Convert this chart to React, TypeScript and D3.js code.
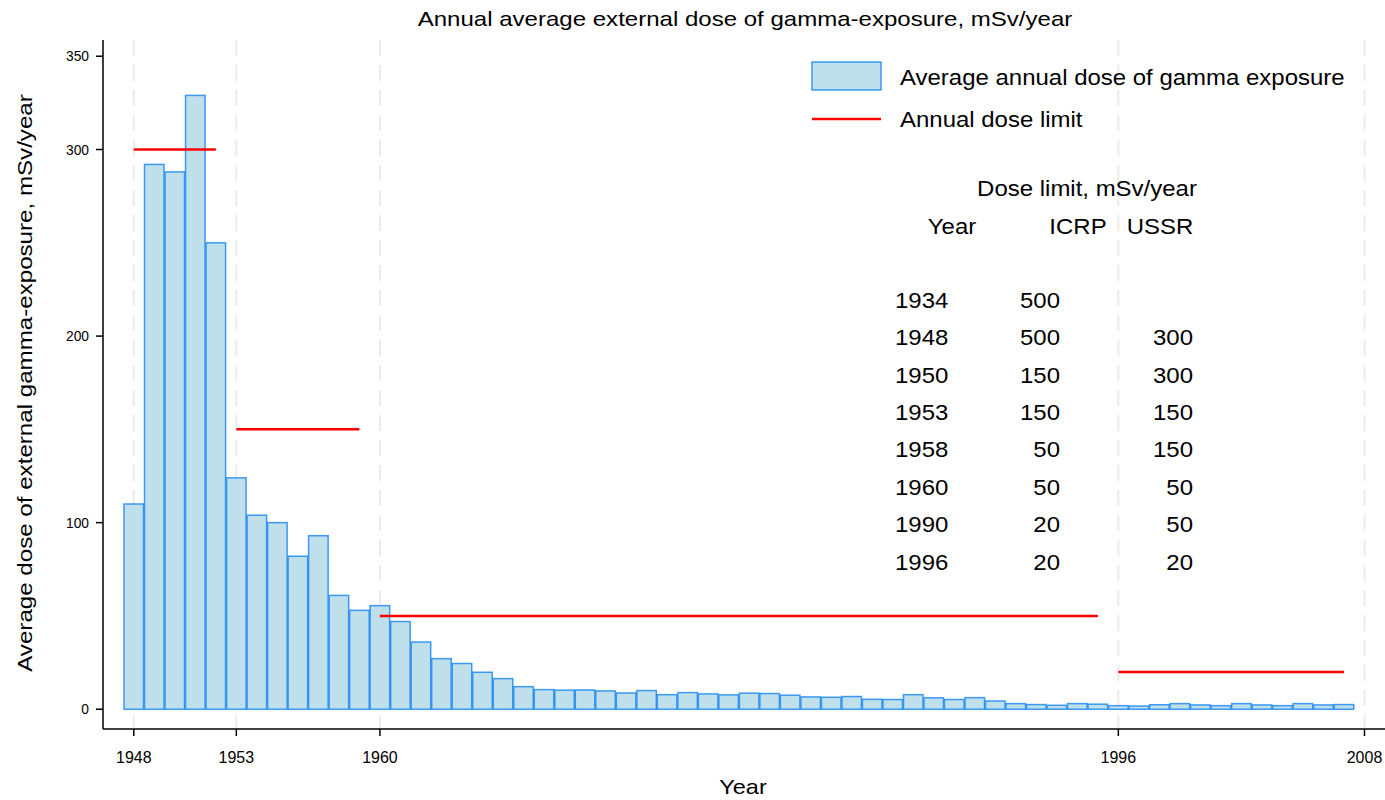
import React from "react";
import * as d3 from "d3";

const years: number[] = d3.range(1948, 2008);
const doses: number[] = [
  110, 292, 288, 329, 250, 124, 104, 100, 82, 93,
  61, 53, 55.5, 47, 36, 27.1, 24.5, 19.8, 16.4, 12.1,
  10.5, 10.2, 10.3, 9.8, 8.7, 10.0, 7.8, 8.9, 8.2, 7.7,
  8.6, 8.4, 7.5, 6.6, 6.4, 6.8, 5.3, 5.2, 7.8, 6.1,
  5.2, 6.2, 4.4, 3.0, 2.5, 2.1, 3.0, 2.7, 1.9, 1.7,
  2.4, 3.0, 2.3, 1.9, 3.0, 2.3, 1.9, 3.0, 2.3, 2.5,
];
const limitStart: number[] = [1948, 1953, 1960, 1996];
const limitEnd: number[] = [1952, 1959, 1995, 2007];
const limitValue: number[] = [300, 150, 50, 20];

const xTicks: number[] = [1948, 1953, 1960, 1996, 2008];
const yTicks: number[] = [0, 100, 200, 300, 350];

const tableYears: string[] = ["1934", "1948", "1950", "1953", "1958", "1960", "1990", "1996"];
const tableICRP: string[] = ["500", "500", "150", "150", "50", "50", "20", "20"];
const tableUSSR: string[] = ["", "300", "300", "150", "150", "50", "50", "20"];

const W = 1385;
const H = 800;
const FONT = "'Liberation Sans', Arial, Helvetica, sans-serif";

type TProps = {
  x: number;
  y: number;
  size: number;
  sx: number;
  anchor?: "start" | "middle" | "end";
  rotate?: number;
  children: React.ReactNode;
};

function T({ x, y, size, sx, anchor = "start", rotate = 0, children }: TProps) {
  return (
    <text
      transform={`translate(${x},${y}) rotate(${rotate}) scale(${sx},1)`}
      dy="0.35em"
      textAnchor={anchor}
      fontSize={size}
      fill="#000"
    >
      {children}
    </text>
  );
}

export default function App() {
  const x = d3.scaleLinear().domain([1946.5, 2009]).range([103, 1385]);
  const y = d3.scaleLinear().domain([-10.6, 358.7]).range([729, 40]);
  const top = 40;
  const bottom = 729;

  const tableRowY = d3.scaleLinear().domain([0, 7]).range([300, 562]);
  const BIG = 22;
  const BSX = 1.09;

  return (
    <svg
      width={W}
      height={H}
      style={{ position: "absolute", left: 0, top: 0, background: "#fff" }}
      fontFamily={FONT}
    >
      {/* grid lines */}
      {xTicks.map((t) => (
        <line
          key={"g" + t}
          x1={x(t)}
          x2={x(t)}
          y1={top}
          y2={bottom}
          stroke="#ebebeb"
          strokeWidth={2}
          strokeDasharray="16 9"
        />
      ))}

      {/* bars */}
      {years.map((yr, i) => {
        const x0 = x(yr - 0.5) + 0.5;
        const x1 = x(yr + 0.5) - 0.5;
        return (
          <rect
            key={"b" + yr}
            x={x0}
            y={y(doses[i])}
            width={x1 - x0}
            height={y(0) - y(doses[i])}
            fill="#bfe0ea"
            stroke="#1e88f5"
            strokeOpacity={0.85}
            strokeWidth={1.5}
          />
        );
      })}

      {/* limit lines */}
      {limitValue.map((v, i) => (
        <line
          key={"l" + i}
          x1={x(limitStart[i])}
          x2={x(limitEnd[i])}
          y1={y(v)}
          y2={y(v)}
          stroke="#ff0000"
          strokeWidth={2.5}
        />
      ))}

      {/* axes */}
      <line x1={103} x2={103} y1={top} y2={bottom} stroke="#000" strokeWidth={1.5} />
      <line x1={103} x2={1385} y1={bottom} y2={bottom} stroke="#000" strokeWidth={1.5} />
      {yTicks.map((t) => (
        <g key={"yt" + t}>
          <line x1={96} x2={103} y1={y(t)} y2={y(t)} stroke="#000" strokeWidth={1.5} />
          <T x={89} y={y(t)} size={15} sx={0.92} anchor="end">
            {t}
          </T>
        </g>
      ))}
      {xTicks.map((t) => (
        <g key={"xt" + t}>
          <line x1={x(t)} x2={x(t)} y1={bottom} y2={bottom + 7} stroke="#000" strokeWidth={1.5} />
          <T x={x(t)} y={757} size={17} sx={0.94} anchor="middle">
            {t}
          </T>
        </g>
      ))}

      {/* titles */}
      <T x={745} y={19} size={21} sx={1.145} anchor="middle">
        Annual average external dose of gamma-exposure, mSv/year
      </T>
      <T x={743} y={787} size={21} sx={1.12} anchor="middle">
        Year
      </T>
      <T x={25} y={383} size={21} sx={1.15} anchor="middle" rotate={-90}>
        Average dose of external gamma-exposure, mSv/year
      </T>

      {/* legend */}
      <rect x={812} y={62} width={69} height={28} fill="#bfe0ea" stroke="#1e88f5" strokeOpacity={0.85} strokeWidth={1.5} />
      <T x={900} y={77} size={BIG} sx={BSX}>
        Average annual dose of gamma exposure
      </T>
      <line x1={812} x2={881} y1={119} y2={119} stroke="#ff0000" strokeWidth={2.5} />
      <T x={900} y={119} size={BIG} sx={BSX}>
        Annual dose limit
      </T>

      {/* table */}
      <T x={1087} y={188} size={BIG} sx={BSX} anchor="middle">
        Dose limit, mSv/year
      </T>
      <T x={952} y={226} size={BIG} sx={BSX} anchor="middle">
        Year
      </T>
      <T x={1078} y={226} size={BIG} sx={BSX} anchor="middle">
        ICRP
      </T>
      <T x={1160} y={226} size={BIG} sx={BSX} anchor="middle">
        USSR
      </T>
      {tableYears.map((ty, i) => (
        <g key={"tr" + i}>
          <T x={895} y={tableRowY(i)} size={BIG} sx={BSX}>
            {ty}
          </T>
          <T x={1060} y={tableRowY(i)} size={BIG} sx={BSX} anchor="end">
            {tableICRP[i]}
          </T>
          <T x={1193} y={tableRowY(i)} size={BIG} sx={BSX} anchor="end">
            {tableUSSR[i]}
          </T>
        </g>
      ))}
    </svg>
  );
}
